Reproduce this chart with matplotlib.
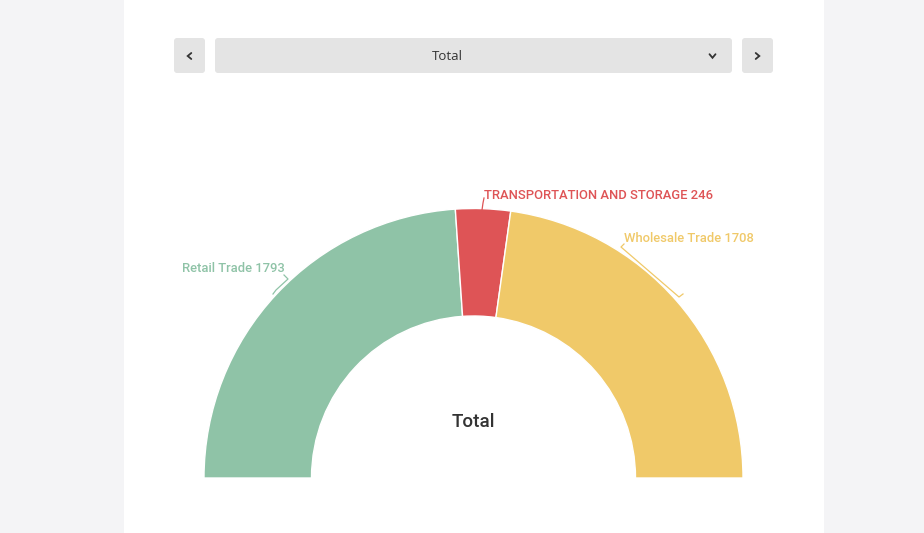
import matplotlib
matplotlib.use("Agg")
import matplotlib.pyplot as plt
from matplotlib.patches import FancyBboxPatch, Rectangle

categories = ["Retail Trade", "TRANSPORTATION AND STORAGE", "Wholesale Trade"]
values = [1793, 246, 1708]
colors = ["#8fc3a7", "#de5456", "#f0c969"]
center_title = "Total"
selector_label = "Total"

W, H = 924, 533
fig = plt.figure(figsize=(W / 100, H / 100), dpi=100)
fig.patch.set_facecolor("#f4f4f6")
ax = fig.add_axes([0, 0, 1, 1])

def Y(y):
    return H - y

# white panel
ax.add_patch(Rectangle((124, 0), 700, H, facecolor="white", edgecolor="none", zorder=0))

# buttons
def btn(x0, x1, y0, y1):
    ax.add_patch(FancyBboxPatch((x0 + 3, Y(y1) + 3), x1 - x0 - 6, y1 - y0 - 6,
                                boxstyle="round,pad=3", facecolor="#e4e4e4",
                                edgecolor="none", zorder=1))
btn(174, 205, 38, 73)
btn(215, 732, 38, 73)
btn(742, 773, 38, 73)

def chev(cx, cy, d, s=3.0):
    if d == "l":
        xs = [cx + s * 0.6, cx - s * 0.6, cx + s * 0.6]; ys = [cy - s, cy, cy + s]
    elif d == "r":
        xs = [cx - s * 0.6, cx + s * 0.6, cx - s * 0.6]; ys = [cy - s, cy, cy + s]
    else:
        xs = [cx - s, cx, cx + s]; ys = [cy - s * 0.6, cy + s * 0.6, cy - s * 0.6]
    ax.plot(xs, [Y(v) for v in ys], color="#333333", lw=1.3, solid_capstyle="round",
            solid_joinstyle="miter", zorder=3)

chev(189.5, 56, "l")
chev(757.5, 56, "r")
chev(712.5, 56, "d")
ax.text(447, Y(56), selector_label, ha="center", va="center", fontsize=9.5,
        family="Open Sans", color="#333333", zorder=3)

# half donut
cx, cy = 473.5, 478
R, r = 269.5, 162
total = sum(values)
ax.pie(values + [total], colors=colors + ["none"], startangle=180, counterclock=False,
       radius=R, center=(cx, Y(cy)), frame=True,
       wedgeprops=dict(width=R - r, edgecolor="white", linewidth=1.0))
for w in ax.patches[-1:]:
    w.set_edgecolor("none")

ax.set_xlim(0, W)
ax.set_ylim(0, H)
ax.set_aspect("auto")
ax.axis("off")

ax.text(cx, Y(422), center_title, ha="center", va="center", fontsize=13.5,
        family="Roboto", fontweight="medium", color="#333333")

# labels with leaders
lab_font = dict(fontsize=9.35, family="Roboto", fontweight="medium")
ax.text(182, Y(268.5), f"{categories[0]} {values[0]}", ha="left", va="center",
        color=colors[0], **lab_font)
ax.plot([284, 288, 276, 273], [Y(275), Y(279), Y(290), Y(294)], color=colors[0], lw=0.9)

ax.text(484, Y(195.5), f"{categories[1]} {values[1]}", ha="left", va="center",
        color=colors[1], **lab_font)
ax.plot([484, 483, 482], [Y(198), Y(203), Y(210)], color=colors[1], lw=0.9)

ax.text(624, Y(238.5), f"{categories[2]} {values[2]}", ha="left", va="center",
        color=colors[2], **lab_font)
ax.plot([624, 621, 679, 683], [Y(244), Y(247), Y(297), Y(294)], color=colors[2], lw=0.9)

fig.savefig("out.png", dpi=100, facecolor=fig.get_facecolor())
